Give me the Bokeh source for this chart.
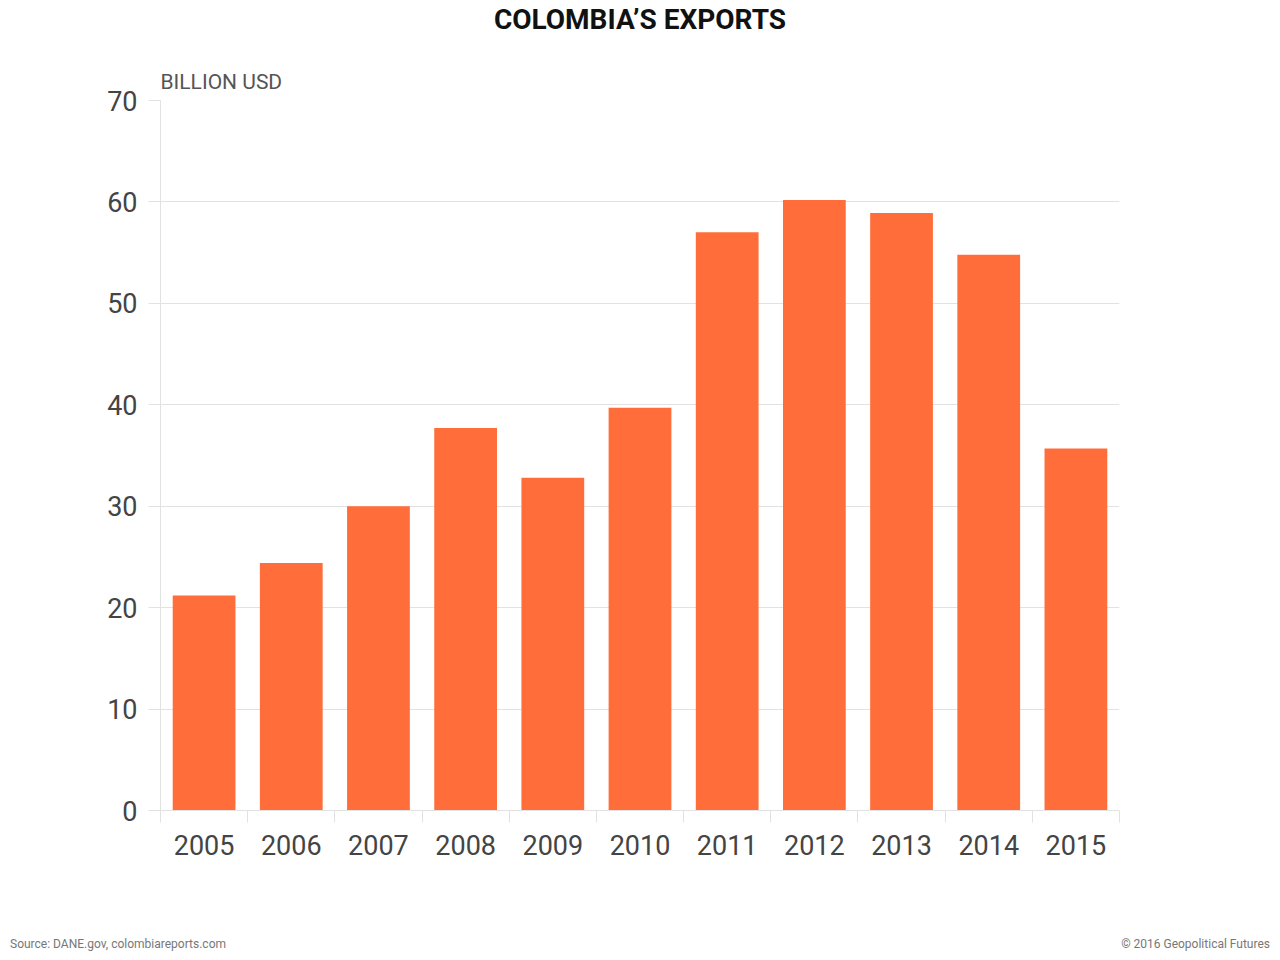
from bokeh.plotting import figure
from bokeh.models import FixedTicker, Range1d, ColumnDataSource, Title, Div
from bokeh.layouts import column
from bokeh.embed import file_html
from bokeh.resources import INLINE

# ---- data ----
years = ["2005", "2006", "2007", "2008", "2009", "2010", "2011", "2012", "2013", "2014", "2015"]
exports = [21.2, 24.4, 30.0, 37.7, 32.8, 39.7, 57.0, 60.2, 58.9, 54.8, 35.7]
y_ticks = [0, 10, 20, 30, 40, 50, 60, 70]
chart_title = "COLOMBIA\u2019S EXPORTS"
unit_label = "BILLION USD"
source_note = "Source: DANE.gov, colombiareports.com"
credit_note = "\u00a9 2016 Geopolitical Futures"

FONT = "Roboto"
BAR = "#FF6E3A"
GRID = "#e2e2e2"
LABEL = "#444444"

n = len(years)
centers = [i + 0.5 for i in range(n)]
src = ColumnDataSource(dict(x=centers, top=exports, year=years))

W = 1272
HEAD = 45
H = 855
FRAME_TOP = 100 - HEAD
FRAME_BOTTOM = 810 - HEAD

header = Div(text=(
    '<div style="box-sizing:border-box;width:1272px;height:45px;padding-left:8px;'
    'padding-top:6px;text-align:center;font-family:Roboto;font-weight:bold;'
    'font-size:28px;line-height:28px;color:#111111;">'
    f'{chart_title}</div>'),
    width=W, height=HEAD, margin=0)

p = figure(width=W, height=H, output_backend="svg", toolbar_location=None, title=None,
           x_range=Range1d(0, n), y_range=Range1d(y_ticks[0], y_ticks[-1]),
           min_border_left=160, min_border_right=W - 1119,
           min_border_top=FRAME_TOP, min_border_bottom=H - FRAME_BOTTOM)
p.outline_line_color = None
p.background_fill_color = "white"
p.border_fill_color = "white"

p.vbar(x="x", top="top", width=0.72, bottom=0, source=src,
       fill_color=BAR, line_color=None)

# grid
p.xgrid.visible = False
p.ygrid.grid_line_color = GRID
p.ygrid.grid_line_width = 1

# x axis
xa = p.xaxis[0]
xa.ticker = FixedTicker(ticks=centers, minor_ticks=list(range(n + 1)))
xa.major_label_overrides = {c: y for c, y in zip(centers, years)}
xa.major_tick_line_color = None
xa.minor_tick_line_color = GRID
xa.minor_tick_line_width = 1
xa.minor_tick_out = 12
xa.minor_tick_in = 0
xa.axis_line_color = GRID
xa.major_label_standoff = 12
xa.major_label_text_font = FONT
xa.major_label_text_font_size = "27px"
xa.major_label_text_color = LABEL

# y axis
ya = p.yaxis[0]
ya.ticker = FixedTicker(ticks=y_ticks, minor_ticks=[])
ya.major_tick_line_color = GRID
ya.major_tick_out = 12
ya.major_tick_in = 0
ya.minor_tick_line_color = None
ya.axis_line_color = GRID
ya.major_label_standoff = 11
ya.major_label_text_font = FONT
ya.major_label_text_font_size = "27px"
ya.major_label_text_color = LABEL

# unit label just above the frame, left aligned
p.add_layout(Title(text=unit_label, align="left", text_font=FONT,
                   text_font_size="21px", text_font_style="normal",
                   text_color="#555555", standoff=14), "above")

foot = Div(text=(
    '<div style="display:flex;justify-content:space-between;align-items:center;'
    'box-sizing:border-box;width:1270px;height:52px;padding-left:10px;padding-top:38px;'
    'font-family:Roboto;font-size:12px;color:#777777;">'
    f'<span>{source_note}</span><span>{credit_note}</span></div>'),
    width=W, height=52, margin=0)

layout = column(header, p, foot, spacing=0)
open("out.html", "w").write(file_html(layout, INLINE))
